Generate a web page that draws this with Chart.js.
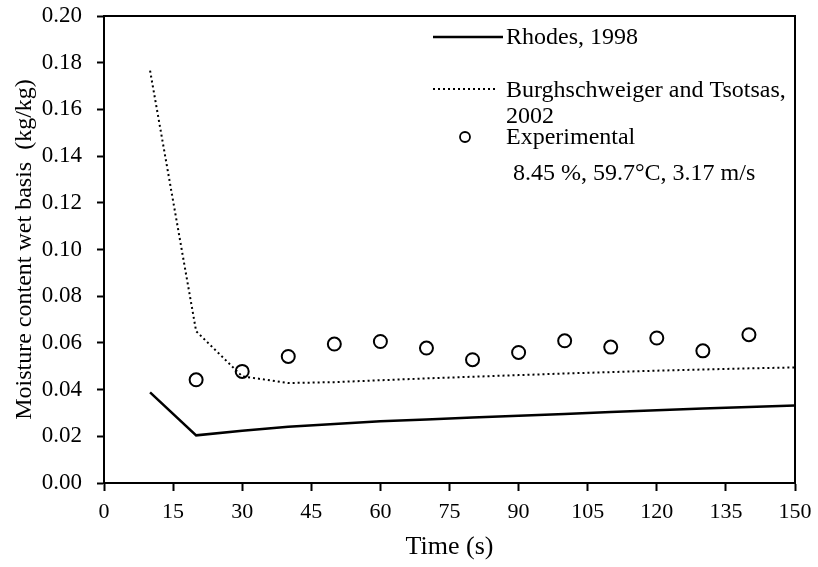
<!DOCTYPE html>
<html>
<head>
<meta charset="utf-8">
<script src="https://cdn.jsdelivr.net/npm/chart.js@4"></script>
<style>
  html, body { margin: 0; padding: 0; background: #fff; }
  #wrap { width: 818px; height: 567px; }
</style>
</head>
<body>
<div id="wrap"><canvas id="dryingChart"></canvas></div>
<script>
// data
const timeModel = [10, 20, 30, 40, 50, 60, 70, 80, 90, 100, 110, 120, 130, 140, 150];
const rhodes = [0.0388, 0.0204, 0.0224, 0.0241, 0.0253, 0.0264, 0.0272, 0.0280, 0.0288, 0.0296, 0.0304, 0.0312, 0.0319, 0.0326, 0.0332];
const burgh = [0.1766, 0.0650, 0.0457, 0.0428, 0.0432, 0.0440, 0.0448, 0.0455, 0.0462, 0.0469, 0.0475, 0.0481, 0.0486, 0.0491, 0.0495];
const timeExp = [20, 30, 40, 50, 60, 70, 80, 90, 100, 110, 120, 130, 140];
const experimental = [0.0442, 0.0478, 0.0542, 0.0595, 0.0606, 0.0578, 0.0528, 0.0559, 0.0609, 0.0582, 0.0621, 0.0566, 0.0635];

const fontFam = '"Liberation Serif", "Times New Roman", serif';

function pts(xs, ys) {
    return xs.map((x, i) => ({ x: x, y: ys[i] }));
}

// box around the plot area
const boxPlugin = {
    id: 'box',
    afterDraw(chart) {
        const a = chart.chartArea;
        const c = chart.ctx;
        c.save();
        c.strokeStyle = '#000';
        c.lineWidth = 2;
        c.strokeRect(a.left, a.top, a.right - a.left, a.bottom - a.top);
        c.restore();
    }
};

// legend drawn by hand, the figure's layout doesn't fit the built-in one
const legendPlugin = {
    id: 'customLegend',
    afterDraw(chart) {
        const c = chart.ctx;
        c.save();
        c.fillStyle = '#000';
        c.strokeStyle = '#000';
        c.font = '24px ' + fontFam;
        c.textBaseline = 'middle';

        c.lineWidth = 2.5;
        c.beginPath();
        c.moveTo(433, 37);
        c.lineTo(503, 37);
        c.stroke();
        c.fillText('Rhodes, 1998', 506, 38);

        c.lineWidth = 2;
        c.setLineDash([2, 3]);
        c.beginPath();
        c.moveTo(433, 89);
        c.lineTo(498, 89);
        c.stroke();
        c.setLineDash([]);
        c.fillText('Burghschweiger and Tsotsas,', 506, 91);
        c.fillText('2002', 506, 117);

        c.lineWidth = 1.8;
        c.beginPath();
        c.arc(465, 137, 5, 0, Math.PI * 2);
        c.stroke();
        c.fillText('Experimental', 506, 138);
        c.fillText('8.45 %, 59.7\u00B0C, 3.17 m/s', 513, 174);
        c.restore();
    }
};

const ctx = document.getElementById('dryingChart');

const myChart = new Chart(ctx, {
    type: 'line',
    data: {
        datasets: [{
            label: 'Rhodes, 1998',
            data: pts(timeModel, rhodes),
            borderColor: '#000',
            borderWidth: 2.5,
            pointRadius: 0,
            fill: false,
            tension: 0
        }, {
            label: 'Burghschweiger and Tsotsas, 2002',
            data: pts(timeModel, burgh),
            borderColor: '#000',
            borderWidth: 2,
            borderDash: [2, 3],
            pointRadius: 0,
            fill: false,
            tension: 0
        }, {
            label: 'Experimental',
            data: pts(timeExp, experimental),
            showLine: false,
            pointStyle: 'circle',
            pointRadius: 6.5,
            pointBorderWidth: 2,
            pointBorderColor: '#000',
            pointBackgroundColor: 'rgba(0,0,0,0)'
        }]
    },
    options: {
        responsive: true,
        maintainAspectRatio: false,
        animation: false,
        layout: { padding: { top: 16, right: 23, left: 0, bottom: 0 } },
        plugins: {
            legend: { display: false },
            tooltip: { enabled: false }
        },
        scales: {
            x: {
                type: 'linear',
                min: 0,
                max: 150,
                afterFit(scale) {
                    scale.height = 84;
                    scale.paddingLeft = 0;
                    scale.paddingRight = 0;
                },
                ticks: {
                    stepSize: 15,
                    color: '#000',
                    padding: 8,
                    maxRotation: 0,
                    font: { family: fontFam, size: 22 }
                },
                grid: {
                    drawOnChartArea: false,
                    tickLength: 8,
                    tickWidth: 2,
                    tickColor: '#000'
                },
                border: { color: '#000', width: 2 },
                title: {
                    display: true,
                    text: 'Time (s)',
                    color: '#000',
                    padding: { top: 0, bottom: 4 },
                    font: { family: fontFam, size: 26 }
                }
            },
            y: {
                min: 0,
                max: 0.2,
                afterFit(scale) {
                    scale.width = 104;
                    scale.paddingTop = 0;
                    scale.paddingBottom = 0;
                },
                ticks: {
                    stepSize: 0.02,
                    color: '#000',
                    padding: 15,
                    font: { family: fontFam, size: 23 },
                    callback: (v) => v.toFixed(2)
                },
                grid: {
                    drawOnChartArea: false,
                    tickLength: 7,
                    tickWidth: 2,
                    tickColor: '#000'
                },
                border: { color: '#000', width: 2 },
                title: {
                    display: true,
                    text: 'Moisture content wet basis  (kg/kg)',
                    color: '#000',
                    padding: { top: 10, bottom: 0 },
                    font: { family: fontFam, size: 24 }
                }
            }
        }
    },
    plugins: [boxPlugin, legendPlugin]
});
</script>
</body>
</html>
